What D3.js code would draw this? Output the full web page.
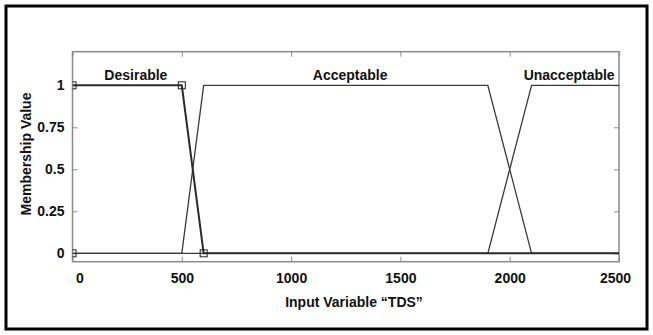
<!DOCTYPE html>
<html>
<head>
<meta charset="utf-8">
<script src="https://cdn.jsdelivr.net/npm/d3@7"></script>
<style>
  html, body { margin: 0; padding: 0; background: #fff; }
  svg { display: block; font-family: "Liberation Sans", Arial, sans-serif; font-weight: bold; }
</style>
</head>
<body>
<svg id="chart" width="653" height="335"></svg>
<script>
// Membership functions of the input variable TDS
const mfNames = ["Desirable", "Acceptable", "Unacceptable"];
const desirableX = [0, 500, 600, 2500];
const desirableY = [1, 1, 0, 0];
const acceptableX = [0, 500, 600, 1900, 2100, 2500];
const acceptableY = [0, 0, 1, 1, 0, 0];
const unacceptableX = [0, 1900, 2100, 2500];
const unacceptableY = [0, 0, 1, 1];
// corner points marked on the selected function
const markerX = [0, 0, 500, 600];
const markerY = [0, 1, 1, 0];
// where each function's name sits
const labelX = [290, 1270, 2272];
const labelY = 1.03;

const xTicks = [0, 500, 1000, 1500, 2000, 2500];
const yTicks = [0, 0.25, 0.5, 0.75, 1];
const yTickLabels = ["0", "0.25", "0.5", "0.75", "1"];
const xTitle = "Input Variable \u201CTDS\u201D";
const yTitle = "Membership Value";

(function draw() {
  const svg = d3.select("#chart");
  const W = 653, H = 335;

  // outer frame
  svg.append("rect")
    .attr("x", 6).attr("y", 6).attr("width", W - 12).attr("height", H - 12)
    .attr("fill", "none").attr("stroke", "#000").attr("stroke-width", 3);

  const m = { left: 72.5, right: 619, top: 51.7, bottom: 261.7 };
  const x = d3.scaleLinear().domain([0, 2500]).range([m.left, m.right]);
  const y = d3.scaleLinear().domain([-0.05, 1.2]).range([m.bottom, m.top]);

  const frameColor = "#8a8a8a";

  // axes with inward ticks on all four sides
  const gx = svg.append("g").attr("transform", `translate(0,${m.bottom})`)
    .call(d3.axisBottom(x).tickValues(xTicks).tickSize(-5).tickPadding(11).tickFormat(d3.format("d")));
  const gxTop = svg.append("g").attr("transform", `translate(0,${m.top})`)
    .call(d3.axisTop(x).tickValues(xTicks).tickSize(-5).tickFormat(""));
  const gy = svg.append("g").attr("transform", `translate(${m.left},0)`)
    .call(d3.axisLeft(y).tickValues(yTicks).tickSize(-5).tickPadding(8)
      .tickFormat((d, i) => yTickLabels[i]));
  const gyRight = svg.append("g").attr("transform", `translate(${m.right},0)`)
    .call(d3.axisRight(y).tickValues(yTicks).tickSize(-5).tickFormat(""));

  [gx, gxTop, gy, gyRight].forEach(g => {
    g.select(".domain").remove();
    g.selectAll(".tick line").attr("stroke", frameColor).attr("stroke-width", 1);
    g.selectAll("text").attr("fill", "#111").attr("font-size", 14)
      .attr("font-family", "'Liberation Sans', Arial, sans-serif").attr("font-weight", "bold");
  });
  // keep the end labels inside the frame
  gx.selectAll(".tick text").attr("dx", d => d === 0 ? 7 : (d === 2500 ? -4 : 0));

  svg.append("rect")
    .attr("x", m.left).attr("y", m.top).attr("width", m.right - m.left).attr("height", m.bottom - m.top)
    .attr("fill", "none").attr("stroke", frameColor).attr("stroke-width", 1.5);

  svg.append("clipPath").attr("id", "plotclip")
    .append("rect").attr("x", m.left).attr("y", m.top)
    .attr("width", m.right - m.left).attr("height", m.bottom - m.top);

  const plot = svg.append("g").attr("clip-path", "url(#plotclip)");
  const line = d3.line().x(d => x(d[0])).y(d => y(d[1]));
  const zip = (xs, ys) => xs.map((v, i) => [v, ys[i]]);

  plot.append("path").datum(zip(acceptableX, acceptableY))
    .attr("d", line).attr("fill", "none").attr("stroke", "#3a3a3a")
    .attr("stroke-width", 1.3).attr("stroke-linejoin", "round");
  plot.append("path").datum(zip(unacceptableX, unacceptableY))
    .attr("d", line).attr("fill", "none").attr("stroke", "#3a3a3a")
    .attr("stroke-width", 1.3).attr("stroke-linejoin", "round");
  plot.append("path").datum(zip(desirableX, desirableY))
    .attr("d", line).attr("fill", "none").attr("stroke", "#2a2a2a")
    .attr("stroke-width", 2).attr("stroke-linejoin", "round");

  plot.selectAll("rect.marker").data(zip(markerX, markerY)).enter()
    .append("rect").attr("class", "marker")
    .attr("x", d => x(d[0]) - 3.5).attr("y", d => y(d[1]) - 3.5)
    .attr("width", 7).attr("height", 7)
    .attr("fill", "none").attr("stroke", "#222").attr("stroke-width", 1);

  svg.selectAll("text.mf").data(mfNames).enter()
    .append("text").attr("class", "mf")
    .attr("x", (d, i) => x(labelX[i])).attr("y", y(labelY))
    .attr("text-anchor", "middle").attr("font-size", 14).attr("fill", "#111")
    .text(d => d);

  svg.append("text")
    .attr("x", 354).attr("y", 306.7)
    .attr("text-anchor", "middle").attr("font-size", 14).attr("fill", "#111")
    .text(xTitle);

  svg.append("text")
    .attr("transform", `translate(31,154) rotate(-90)`)
    .attr("text-anchor", "middle").attr("font-size", 14).attr("fill", "#111")
    .text(yTitle);
})();
</script>
</body>
</html>
